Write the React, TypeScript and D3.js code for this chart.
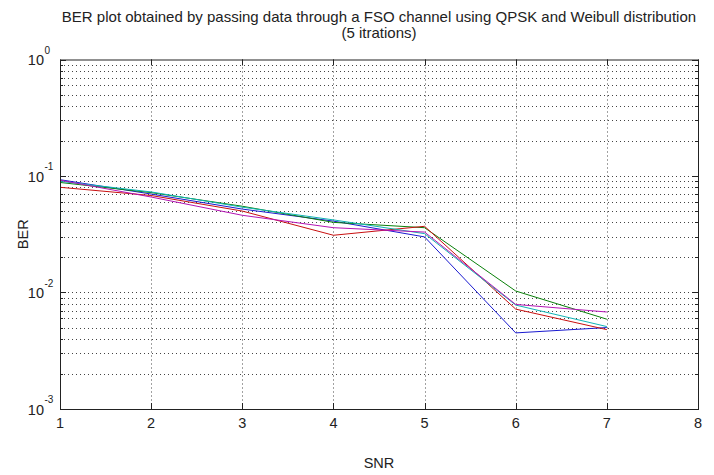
import React, { useEffect, useRef } from 'react'
import { select, scaleLinear, scaleLog, line } from 'd3'

const snr = [1, 2, 3, 4, 5, 6, 7]
const berBlue = [0.093, 0.070, 0.052, 0.041, 0.030, 0.0045, 0.0050]
const berGreen = [0.088, 0.072, 0.055, 0.040, 0.036, 0.0103, 0.0059]
const berRed = [0.080, 0.068, 0.050, 0.031, 0.037, 0.0072, 0.0048]
const berCyan = [0.090, 0.073, 0.054, 0.042, 0.032, 0.0078, 0.0051]
const berMagenta = [0.092, 0.066, 0.046, 0.036, 0.033, 0.0079, 0.0068]

const xTicks = [1, 2, 3, 4, 5, 6, 7, 8]
const yExponents = [0, -1, -2, -3]

const titleLine1 = 'BER plot obtained by passing data through a FSO channel using QPSK and Weibull distribution'
const titleLine2 = '(5 itrations)'

const W = 714
const H = 475
const left = 60
const right = 698
const top = 59.5
const bottom = 409

const App = () => {
  const svgRef = useRef<SVGSVGElement>(null)

  useEffect(() => {
    const svg = select(svgRef.current)
    svg.selectAll('*').remove()

    const x = scaleLinear().domain([1, 8]).range([left, right])
    const y = scaleLog().domain([1e-3, 1]).range([bottom, top])

    const font = 'Liberation Sans, Arial, sans-serif'
    const gridColor = '#444'

    svg.append('rect').attr('width', W).attr('height', H).attr('fill', '#fff')

    // log grid values, minor and major
    const yGrid: number[] = []
    for (let e = -3; e < 0; e++) {
      for (let m = 1; m < 10; m++) yGrid.push(m * Math.pow(10, e))
    }
    yGrid.push(1)

    const grid = svg.append('g').attr('stroke', gridColor).attr('stroke-width', 1).attr('stroke-dasharray', '1,3')
    yGrid.filter((v) => v > 1e-3 && v < 1).forEach((v) => {
      const yy = Math.round(y(v)) + 0.5
      grid.append('line').attr('x1', left).attr('x2', right).attr('y1', yy).attr('y2', yy)
    })
    xTicks.filter((v) => v > 1 && v < 8).forEach((v) => {
      const xx = Math.round(x(v)) + 0.5
      grid.append('line').attr('x1', xx).attr('x2', xx).attr('y1', top).attr('y2', bottom)
    })

    // ticks
    const ticks = svg.append('g').attr('stroke', '#222').attr('stroke-width', 1)
    xTicks.forEach((v) => {
      const xx = Math.round(x(v)) + 0.5
      ticks.append('line').attr('x1', xx).attr('x2', xx).attr('y1', bottom).attr('y2', bottom - 6)
      ticks.append('line').attr('x1', xx).attr('x2', xx).attr('y1', top).attr('y2', top + 6)
    })
    yGrid.forEach((v) => {
      const yy = Math.round(y(v)) + 0.5
      const major = Math.abs(Math.log10(v) - Math.round(Math.log10(v))) < 1e-9
      const len = major ? 6 : 3
      ticks.append('line').attr('x1', left).attr('x2', left + len).attr('y1', yy).attr('y2', yy)
      ticks.append('line').attr('x1', right).attr('x2', right - len).attr('y1', yy).attr('y2', yy)
    })

    // series
    const series = [
      { values: berBlue, color: '#1a1ad0' },
      { values: berGreen, color: '#0a800a' },
      { values: berRed, color: '#c81010' },
      { values: berCyan, color: '#10b4b4' },
      { values: berMagenta, color: '#b414b4' },
    ]
    const path = line<number>().x((d, i) => x(snr[i])).y((d) => y(d))
    svg.append('g')
      .selectAll('path')
      .data(series)
      .join('path')
      .attr('d', (s) => path(s.values))
      .attr('fill', 'none')
      .attr('stroke', (s) => s.color)
      .attr('stroke-width', 1)

    // frame
    svg.append('rect')
      .attr('x', left + 0.5).attr('y', top + 0.5)
      .attr('width', right - left).attr('height', bottom - top)
      .attr('fill', 'none').attr('stroke', '#222').attr('stroke-width', 1)

    // x labels
    svg.append('g')
      .selectAll('text')
      .data(xTicks)
      .join('text')
      .attr('x', (d) => x(d))
      .attr('y', 428)
      .attr('text-anchor', 'middle')
      .attr('font-family', font)
      .attr('font-size', 14.5)
      .attr('fill', '#222')
      .text((d) => d)

    // y labels
    const yl = svg.append('g').attr('font-family', font).attr('fill', '#222')
    yExponents.forEach((e) => {
      const yy = y(Math.pow(10, e))
      yl.append('text').attr('x', 44).attr('y', yy + 5.5).attr('text-anchor', 'end').attr('font-size', 14.5).text('10')
      yl.append('text').attr('x', 44.5).attr('y', yy - 6).attr('font-size', 10).text(String(e))
    })

    // title
    const cx = (left + right) / 2
    svg.append('text').attr('x', cx).attr('y', 22).attr('text-anchor', 'middle')
      .attr('font-family', font).attr('font-size', 15).attr('fill', '#222').text(titleLine1)
    svg.append('text').attr('x', cx).attr('y', 38).attr('text-anchor', 'middle')
      .attr('font-family', font).attr('font-size', 15).attr('fill', '#222').text(titleLine2)

    // axis labels
    svg.append('text').attr('x', cx).attr('y', 468).attr('text-anchor', 'middle')
      .attr('font-family', font).attr('font-size', 14.5).attr('fill', '#222').text('SNR')
    svg.append('text').attr('transform', `translate(28,${(top + bottom) / 2}) rotate(-90)`)
      .attr('text-anchor', 'middle')
      .attr('font-family', font).attr('font-size', 14.5).attr('fill', '#222').text('BER')
  }, [])

  return (
    <svg ref={svgRef} width={W} height={H} style={{ position: 'absolute', left: 0, top: 0 }} />
  )
}

export default App
